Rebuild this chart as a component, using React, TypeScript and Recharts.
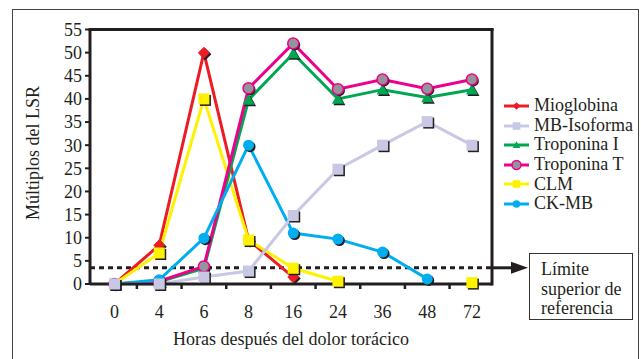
import React from 'react';
import { LineChart, Line, XAxis, YAxis, ReferenceLine } from 'recharts';

// horas después del dolor torácico (categorías del eje X)
const hours = ['0', '4', '6', '8', '16', '24', '36', '48', '72'];

// múltiplos del LSR por marcador
const mioglobina = [0, 8.4, 50, 9.5, 1.5, null, null, null, null];
const mbIsoforma = [0, 0, 1.5, 2.8, 14.8, 24.8, 30, 35.1, 30];
const troponinaI = [0, 0.5, 3.4, 39.8, 49.8, 40, 42, 40.3, 42];
const troponinaT = [0, 0.6, 3.8, 42.3, 52, 42.1, 44.2, 42.2, 44.2];
const clm = [0, 6.7, 40, 9.5, 3.4, 0.6, null, null, 0.3];
const ckmb = [0, 0.9, 9.9, 30, 11, 9.7, 6.9, 1.1, null];

const yTicks = [0, 5, 10, 15, 20, 25, 30, 35, 40, 45, 50, 55];
const limiteSuperior = 3.5;

const FONT = '"Liberation Serif", "Times New Roman", serif';
const INK = '#231F20';

const data = hours.map((h, i) => ({
  i,
  hora: h,
  mioglobina: mioglobina[i],
  mbIsoforma: mbIsoforma[i],
  troponinaI: troponinaI[i],
  troponinaT: troponinaT[i],
  clm: clm[i],
  ckmb: ckmb[i],
}));

type Shape = 'diamond' | 'square' | 'triangle' | 'circle';

function marker(shape: Shape, cx: number, cy: number, s: number, fill: string, stroke?: string) {
  const sw = stroke ? 1.5 : 0;
  if (shape === 'diamond')
    return <polygon points={`${cx},${cy - s} ${cx + s},${cy} ${cx},${cy + s} ${cx - s},${cy}`} fill={fill} stroke={stroke} strokeWidth={sw} />;
  if (shape === 'square')
    return <rect x={cx - s} y={cy - s} width={s * 2} height={s * 2} fill={fill} stroke={stroke} strokeWidth={sw} />;
  if (shape === 'triangle')
    return <polygon points={`${cx},${cy - s} ${cx + s},${cy + s * 0.8} ${cx - s},${cy + s * 0.8}`} fill={fill} stroke={stroke} strokeWidth={sw} />;
  return <circle cx={cx} cy={cy} r={s} fill={fill} stroke={stroke} strokeWidth={sw} />;
}

// marcador con sombra negra desplazada, como en la figura impresa
const makeDot = (shape: Shape, fill: string, size: number, stroke?: string) => (props: any) => {
  const { cx, cy, index } = props;
  if (cx == null || cy == null || props.value == null) return <g key={index} />;
  return (
    <g key={index}>
      {marker(shape, cx + 1.5, cy + 1.5, size, INK)}
      {marker(shape, cx, cy, size, fill, stroke)}
    </g>
  );
};

const series = [
  { key: 'mioglobina', name: 'Mioglobina', color: '#ED1C24', shape: 'diamond' as Shape, size: 6, fill: '#ED1C24' },
  { key: 'clm', name: 'CLM', color: '#FFF200', shape: 'square' as Shape, size: 5.5, fill: '#FFF200' },
  { key: 'troponinaI', name: 'Troponina I', color: '#00A651', shape: 'triangle' as Shape, size: 6, fill: '#00A651' },
  { key: 'troponinaT', name: 'Troponina T', color: '#EC008C', shape: 'circle' as Shape, size: 5.5, fill: '#939598', stroke: '#EC008C' },
  { key: 'ckmb', name: 'CK-MB', color: '#00AEEF', shape: 'circle' as Shape, size: 5.5, fill: '#00AEEF' },
  { key: 'mbIsoforma', name: 'MB-Isoforma', color: '#C8C8E4', shape: 'square' as Shape, size: 5.5, fill: '#C8C8E4' },
];

const legendOrder = ['mioglobina', 'mbIsoforma', 'troponinaI', 'troponinaT', 'clm', 'ckmb'];

const HourTick = (props: any) => {
  const { x, y, payload } = props;
  const v = payload.value;
  if (Number.isInteger(v)) {
    return (
      <text x={x} y={y + 29} textAnchor="middle" fontSize={18} fontFamily={FONT} fill={INK}>
        {hours[v]}
      </text>
    );
  }
  return <line x1={x} x2={x} y1={y - 5} y2={y} stroke={INK} strokeWidth={2.5} />;
};

const LimitShape = (p: any) => (
  <g>
    <line x1={p.x1} y1={p.y1} x2={p.x2} y2={p.y2} stroke={INK} strokeWidth={3} strokeDasharray="5 4" />
    <line x1={p.x2} y1={p.y1} x2={p.x2 + 20} y2={p.y1} stroke={INK} strokeWidth={3} />
    <polygon points={`${p.x2 + 19},${p.y1 - 6} ${p.x2 + 36},${p.y1} ${p.x2 + 19},${p.y1 + 6}`} fill={INK} />
  </g>
);

export default function App() {
  return (
    <div style={{ position: 'absolute', left: 0, top: 0, width: 641, height: 359, overflow: 'hidden', background: '#fff', fontFamily: FONT, color: INK }}>
      <div style={{ position: 'absolute', left: 12, top: 9, width: 625, height: 400, border: '1.5px solid #444' }} />
      <LineChart width={641} height={359} data={data} margin={{ top: 29.5, right: 149, bottom: 35, left: 30 }}>
        <XAxis
          dataKey="i"
          type="number"
          domain={[-0.55, 8.45]}
          allowDataOverflow
          ticks={[0, 0.5, 1, 1.5, 2, 2.5, 3, 3.5, 4, 4.5, 5, 5.5, 6, 6.5, 7, 7.5, 8]}
          interval={0}
          height={40}
          tickLine={false}
          tickSize={5}
          tickMargin={0}
          tick={<HourTick />}
          axisLine={{ stroke: INK, strokeWidth: 3 }}
        />
        <YAxis
          type="number"
          domain={[0, 55]}
          ticks={yTicks}
          interval={0}
          width={60}
          tickSize={5}
          tickMargin={3}
          tickLine={{ stroke: INK, strokeWidth: 2 }}
          axisLine={{ stroke: INK, strokeWidth: 3 }}
          tick={{ fontSize: 18, fontFamily: FONT, fill: INK }}
        />
        <ReferenceLine y={55} stroke={INK} strokeWidth={3} strokeLinecap="square" />
        <ReferenceLine x={8.45} stroke={INK} strokeWidth={3} strokeLinecap="square" />
        <ReferenceLine y={limiteSuperior} shape={<LimitShape />} />
        {series.map((s) => (
          <Line
            key={s.key}
            dataKey={s.key}
            name={s.name}
            type="linear"
            stroke={s.color}
            strokeWidth={3}
            connectNulls={false}
            dot={makeDot(s.shape, s.fill, s.size, s.stroke)}
            activeDot={false}
            isAnimationActive={false}
          />
        ))}
      </LineChart>

      {/* título del eje Y */}
      <div style={{ position: 'absolute', left: 33, top: 153, transform: 'translate(-50%, -50%) rotate(-90deg)', whiteSpace: 'nowrap', fontSize: 18, lineHeight: '20px' }}>
        Múltiplos del LSR
      </div>
      {/* título del eje X */}
      <div style={{ position: 'absolute', left: 291, top: 339, transform: 'translate(-50%, -50%)', whiteSpace: 'nowrap', fontSize: 18, lineHeight: '20px' }}>
        Horas después del dolor torácico
      </div>

      {/* leyenda */}
      <div style={{ position: 'absolute', left: 503, top: 96 }}>
        {legendOrder.map((k) => {
          const s = series.find((d) => d.key === k)!;
          return (
            <div key={k} style={{ display: 'flex', alignItems: 'center', height: 19.6, fontSize: 18, whiteSpace: 'nowrap' }}>
              <svg width={30} height={19.6} style={{ flex: 'none' }}>
                <line x1={1} x2={26} y1={10} y2={10} stroke={s.color} strokeWidth={3} />
                {marker(s.shape, 13.5, 10, s.shape === 'circle' && s.stroke ? 4.5 : 3.8, s.fill, s.stroke)}
              </svg>
              <span style={{ marginLeft: 1 }}>{s.name}</span>
            </div>
          );
        })}
      </div>

      {/* recuadro del límite */}
      <div style={{ position: 'absolute', left: 529, top: 253, width: 102, height: 65, border: '1.5px solid #333', boxSizing: 'content-box' }}>
        <div style={{ paddingLeft: 11, paddingTop: 6, fontSize: 18, lineHeight: '19.5px' }}>
          Límite
          <br />
          superior de
          <br />
          referencia
        </div>
      </div>
    </div>
  );
}
